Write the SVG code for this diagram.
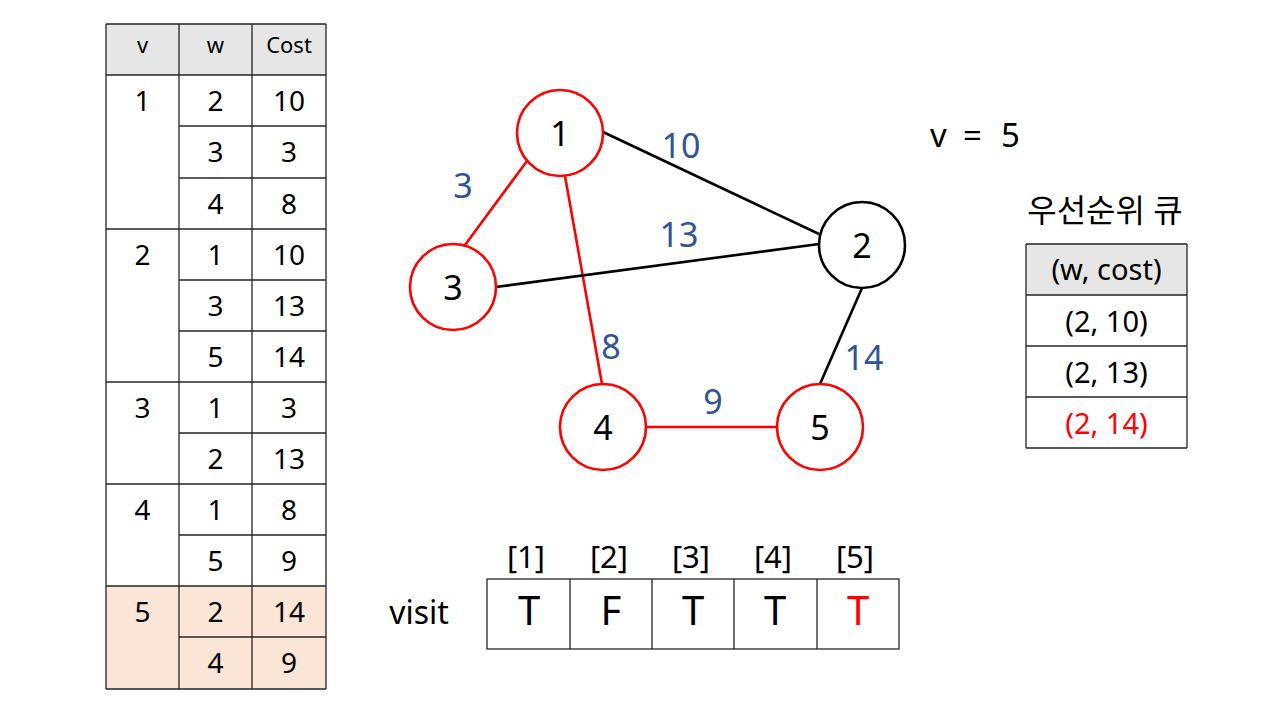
<svg xmlns="http://www.w3.org/2000/svg" width="1280" height="720" viewBox="0 0 1280 720">
<style>
text{font-family:"Noto Sans","Noto Sans CJK KR",sans-serif;fill:#000;text-anchor:middle}
.hd{font-size:22px}
.tn{font-size:28px}
.pq{font-size:29px}
.nl{font-size:34px}
.el{font-size:34px;fill:#2F5597}
.red{fill:#FF0000}
.grid{stroke:#262626;stroke-width:1.3;fill:none}
.node{fill:#fff;stroke-width:2.6}
.edge{stroke-width:2.6;fill:none}
</style>
<rect width="1280" height="720" fill="#fff"/>

<g id="adj-table">
<rect x="106" y="24" width="220" height="51" fill="#E7E6E6"/>
<rect x="106" y="586" width="220" height="103" fill="#FBE5D6"/>
<g class="grid">
<path d="M106 24H326M106 75H326M106 229H326M106 382H326M106 484H326M106 586H326M106 689H326"/>
<path d="M179 126H326M179 178H326M179 280H326M179 331H326M179 433H326M179 535H326M179 637H326"/>
<path d="M106 24V689M179 24V689M252 24V689M326 24V689"/>
</g>
<text class="hd" x="142.5" y="53">v</text>
<text class="hd" x="215.5" y="53">w</text>
<text class="hd" x="289" y="53">Cost</text>
<g class="tn">
<text x="142.5" y="111">1</text>
<text x="142.5" y="265">2</text>
<text x="142.5" y="418">3</text>
<text x="142.5" y="520">4</text>
<text x="142.5" y="622">5</text>
<text x="215.5" y="111">2</text><text x="289" y="111">10</text>
<text x="215.5" y="162">3</text><text x="289" y="162">3</text>
<text x="215.5" y="214">4</text><text x="289" y="214">8</text>
<text x="215.5" y="265">1</text><text x="289" y="265">10</text>
<text x="215.5" y="316">3</text><text x="289" y="316">13</text>
<text x="215.5" y="367">5</text><text x="289" y="367">14</text>
<text x="215.5" y="418">1</text><text x="289" y="418">3</text>
<text x="215.5" y="469">2</text><text x="289" y="469">13</text>
<text x="215.5" y="520">1</text><text x="289" y="520">8</text>
<text x="215.5" y="571">5</text><text x="289" y="571">9</text>
<text x="215.5" y="622">2</text><text x="289" y="622">14</text>
<text x="215.5" y="673">4</text><text x="289" y="673">9</text>
</g>
</g>

<g id="connectors">
<line class="edge" x1="603" y1="132" x2="819" y2="234" stroke="#000"/>
<line class="edge" x1="527" y1="161" x2="465" y2="245" stroke="#FF0000"/>
<line class="edge" x1="565" y1="176" x2="602" y2="384" stroke="#FF0000"/>
<line class="edge" x1="496" y1="287" x2="819" y2="244" stroke="#000"/>
<line class="edge" x1="862" y1="288" x2="820" y2="384" stroke="#000"/>
<line class="edge" x1="646" y1="427" x2="777" y2="427" stroke="#FF0000"/>
<text class="el" x="681" y="158">10</text>
<text class="el" x="463" y="198">3</text>
<text class="el" x="679" y="247">13</text>
<text class="el" x="611" y="359">8</text>
<text class="el" x="864" y="370">14</text>
<text class="el" x="713" y="414">9</text>
</g>

<g id="node-1"><circle class="node" cx="560" cy="133" r="43" stroke="#FF0000"/><text class="nl" x="560" y="146">1</text></g>
<g id="node-2"><circle class="node" cx="862" cy="245" r="43" stroke="#000"/><text class="nl" x="862" y="258">2</text></g>
<g id="node-3"><circle class="node" cx="453" cy="287" r="43" stroke="#FF0000"/><text class="nl" x="453" y="300">3</text></g>
<g id="node-4"><circle class="node" cx="603" cy="427" r="43" stroke="#FF0000"/><text class="nl" x="603" y="440">4</text></g>
<g id="node-5"><circle class="node" cx="820" cy="427" r="43" stroke="#FF0000"/><text class="nl" x="820" y="440">5</text></g>

<g id="current-v">
<text style="font-size:33px;text-anchor:start" y="147"><tspan x="930">v</tspan><tspan x="963">=</tspan><tspan x="1001">5</tspan></text>
</g>

<g id="priority-queue">
<text style="font-size:32px" x="1105" y="222">우선순위 큐</text>
<rect x="1026" y="244" width="161" height="51" fill="#E7E6E6"/>
<g class="grid">
<path d="M1026 244H1187M1026 295H1187M1026 346H1187M1026 397H1187M1026 448H1187"/>
<path d="M1026 244V448M1187 244V448"/>
</g>
<text class="pq" x="1106.5" y="280">(w, cost)</text>
<text class="pq" x="1106.5" y="332">(2, 10)</text>
<text class="pq" x="1106.5" y="383">(2, 13)</text>
<text class="pq red" x="1106.5" y="434">(2, 14)</text>
</g>

<g id="visit-array">
<text style="font-size:32px" x="419" y="624">visit</text>
<g class="grid">
<rect x="487" y="579" width="412" height="70"/>
<path d="M570 579V649M652 579V649M734 579V649M817 579V649"/>
</g>
<g style="font-size:31px">
<text x="526" y="568">[1]</text>
<text x="609" y="568">[2]</text>
<text x="691" y="568">[3]</text>
<text x="773" y="568">[4]</text>
<text x="855" y="568">[5]</text>
</g>
<g style="font-size:40px">
<text x="529" y="625">T</text>
<text x="611" y="625">F</text>
<text x="693" y="625">T</text>
<text x="775" y="625">T</text>
<text class="red" x="858" y="625">T</text>
</g>
</g>
</svg>
